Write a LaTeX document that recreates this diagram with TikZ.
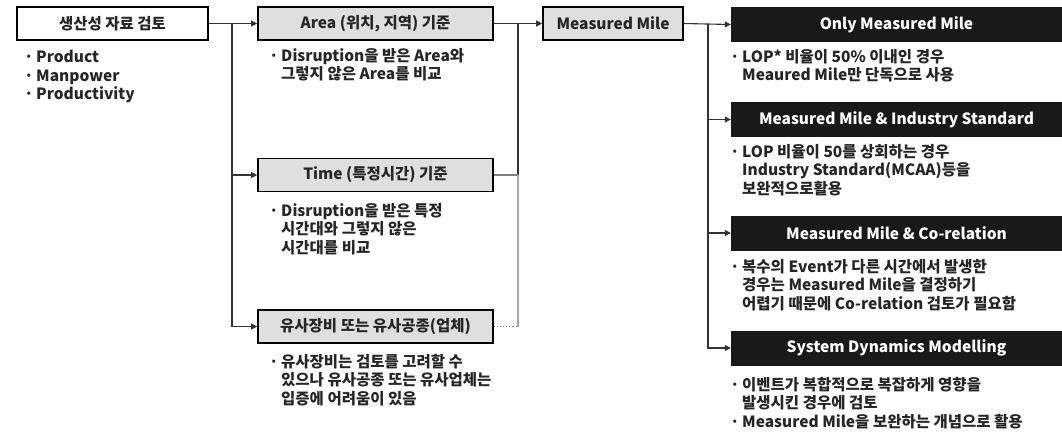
\documentclass[tikz,border=0pt]{standalone}
\usepackage{fontspec}
\setmainfont{Noto Sans CJK KR}
\usetikzlibrary{arrows.meta}
\newcommand\bul{\makebox[11pt][l]{\hspace*{-1pt}·}}
\newcommand\bulind{\makebox[11pt][l]{}}
\begin{document}
\begin{tikzpicture}[x=1pt,y=-1pt,
  lbl/.style={font=\fontsize{15.5}{17}\selectfont\bfseries},
  whitebox/.style={draw=black, line width=1.6pt, fill=white, minimum height=33pt, inner sep=0pt, text=black!85},
  graybox/.style={whitebox, fill=gray!25},
  blackbox/.style={fill=black!90, text=white, minimum height=35pt, inner sep=0pt},
  bultext/.style={anchor=north west, inner sep=0pt, align=left, font=\fontsize{15.5}{18.6}\selectfont\bfseries, text=black!85},
  conn/.style={draw=black!80, line width=1.1pt},
  arr/.style={conn, -{Triangle[length=6pt,width=6pt]}},
]
\useasboundingbox (0,0) rectangle (1062,432);
\fill[white] (0,0) rectangle (1062,432);

\node[whitebox, lbl, minimum width=191pt] (src) at (112.5,23.5) {생산성 자료 검토};
\node[graybox, lbl, minimum width=235pt] (area) at (375.5,23.5) {Area (위치, 지역) 기준};
\node[graybox, lbl, minimum width=235pt] (time) at (375.5,175) {Time (특정시간) 기준};
\node[graybox, lbl, minimum width=235pt] (sim) at (375.5,326.5) {유사장비 또는 유사공종(업체)};
\node[graybox, lbl, minimum width=140pt] (mm) at (613,23.5) {Measured Mile};
\node[blackbox, lbl, minimum width=331pt] (only) at (896.5,24.5) {Only Measured Mile};
\node[blackbox, lbl, minimum width=331pt] (ind) at (896.5,119.5) {Measured Mile \& Industry Standard};
\node[blackbox, lbl, minimum width=331pt] (cor) at (896.5,233) {Measured Mile \& Co-relation};
\node[blackbox, lbl, minimum width=331pt] (sd) at (896.5,348) {System Dynamics Modelling};

\coordinate (lt) at (232,23.5);
\draw[arr] (src.east) -- (area.west);
\draw[arr] (lt) |- (time.west);
\draw[arr] (lt) |- (sim.west);

\coordinate (rt) at (518,23.5);
\draw[arr] (area.east) -- (mm.west);
\draw[conn] (rt) -- (rt |- time.east);
\draw[conn, draw=gray] (time.east) -- (rt |- time.east);
\draw[conn, draw=gray!70] (rt |- time.east) -- (rt |- sim.east);
\draw[conn, draw=gray, dotted] (sim.east) -- (rt |- sim.east);

\coordinate (mt) at (708,23.5);
\draw[arr] (mm.east) -- (only.west);
\draw[arr] (mt) |- (ind.west);
\draw[arr] (mt) |- (cor.west);
\draw[arr] (mt) |- (sd.west);

\node[bultext] (t1) at (25,50) {\bul Product\\\bul Manpower\\\bul Productivity};
\node[bultext] (t2) at (270,48) {\bul Disruption을 받은 Area와\\\bulind 그렇지 않은 Area를 비교};
\node[bultext] (t3) at (270,203) {\bul Disruption을 받은 특정\\\bulind 시간대와 그렇지 않은\\\bulind 시간대를 비교};
\node[bultext] (t4) at (270,354) {\bul 유사장비는 검토를 고려할 수\\\bulind 있으나 유사공종 또는 유사업체는\\\bulind 입증에 어려움이 있음};
\node[bultext] (t5) at (731,49) {\bul LOP* 비율이 50\% 이내인 경우\\\bulind Meaured Mile만 단독으로 사용};
\node[bultext] (t6) at (731,144) {\bul LOP 비율이 50를 상회하는 경우\\\bulind Industry Standard(MCAA)등을\\\bulind 보완적으로활용};
\node[bultext] (t7) at (731,259) {\bul 복수의 Event가 다른 시간에서 발생한\\\bulind 경우는 Measured Mile을 결정하기\\\bulind 어렵기 때문에 Co-relation 검토가 필요함};
\node[bultext] (t8) at (731,377) {\bul 이벤트가 복합적으로 복잡하게 영향을\\\bulind 발생시킨 경우에 검토\\\bul Measured Mile을 보완하는 개념으로 활용};
\end{tikzpicture}
\end{document}
